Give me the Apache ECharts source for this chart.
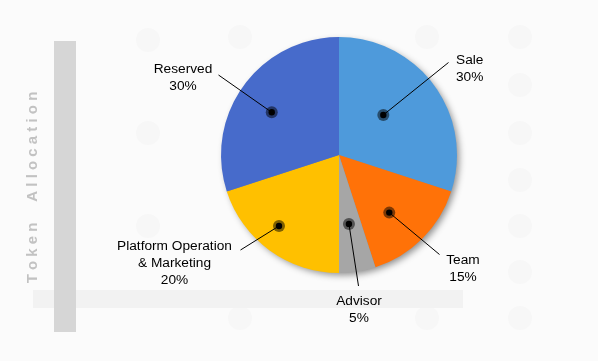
<!DOCTYPE html>
<html>
<head>
<meta charset="utf-8">
<script src="https://cdn.jsdelivr.net/npm/echarts@6/dist/echarts.min.js"></script>
<style>html,body{margin:0;padding:0;background:#fbfbfb;}#c{width:598px;height:361px;}</style>
</head>
<body>
<div id="c"></div>
<script>
const categories = ['Sale', 'Team', 'Advisor', 'Platform Operation & Marketing', 'Reserved'];
const values = [30, 15, 5, 20, 30];
const colors = ['#4E9ADB', '#FF7208', '#A6A6A6', '#FFC000', '#476BCB'];
const title = 'Token Allocation';

// layout (pixels)
const CX = 339, CY = 155, R = 118;
// per slice: [angle offset (deg), radius fraction] of the dot
const dotLayout = [[-6.1, 0.506], [3.9, 0.648], [0.8, 0.59], [4.2, 0.788], [-3.6, 0.675]];
// per slice: label anchor, align, end of leader line
const labelLayouts = [
  {x: 456, y: 69, align: 'left', end: [448.5, 62.5]},
  {x: 463, y: 268.5, align: 'center', end: [439.5, 254.5]},
  {x: 359, y: 310, align: 'center', end: [358.5, 286]},
  {x: 174.5, y: 263.5, align: 'center', end: [240.5, 250]},
  {x: 183, y: 77.5, align: 'center', end: [218.5, 75]}
];

const total = values.reduce((a, b) => a + b, 0);
const dots = [];
let acc = 0;
values.forEach((v, i) => {
  const mid = (acc + v / 2) / total * 360 + dotLayout[i][0];
  acc += v;
  const a = mid * Math.PI / 180;
  const r = R * dotLayout[i][1];
  dots.push([CX + r * Math.sin(a), CY - r * Math.cos(a)]);
});

const chart = echarts.init(document.getElementById('c'), null, {renderer: 'canvas'});

const bgCircles = [[520,37],[520,85],[520,133],[520,180],[520,226],[520,272],[520,318],[427,37],[148,40],[240,37],[148,133],[148,226],[240,318],[427,318]];
const graphics = [];
bgCircles.forEach(p => graphics.push({type: 'circle', silent: true, z: -10, shape: {cx: p[0], cy: p[1], r: 12}, style: {fill: '#f7f7f7'}}));
graphics.push({type: 'rect', z: -5, shape: {x: 33, y: 290, width: 430, height: 18}, style: {fill: '#f2f2f2'}});
graphics.push({type: 'rect', z: -4, shape: {x: 54, y: 41, width: 22, height: 291}, style: {fill: '#d6d6d6'}});
graphics.push({type: 'text', z: -3, x: 33, y: 187.5, rotation: Math.PI / 2,
  style: {text: title.split('').join(' ').replace('n   A', 'n     A'), fill: '#c2c2c2', font: 'bold 15px "Liberation Sans", Arial, sans-serif', align: 'center', verticalAlign: 'middle'}});
dots.forEach((p, i) => {
  const e = labelLayouts[i].end;
  graphics.push({type: 'line', z: 99, shape: {x1: p[0], y1: p[1], x2: e[0], y2: e[1]}, style: {stroke: '#000', lineWidth: 1}});
  graphics.push({type: 'circle', z: 100, shape: {cx: p[0], cy: p[1], r: 6}, style: {fill: 'rgba(0,0,0,0.5)'}});
  graphics.push({type: 'circle', z: 101, shape: {cx: p[0], cy: p[1], r: 3.2}, style: {fill: '#000'}});
});

chart.setOption({
  backgroundColor: '#fbfbfb',
  animation: false,
  graphic: graphics,
  series: [{
    type: 'pie',
    silent: true,
    z: 1,
    center: [CX, CY],
    radius: [0, R - 1],
    label: {show: false},
    labelLine: {show: false},
    data: [{value: 1, itemStyle: {color: '#888', shadowBlur: 7, shadowOffsetX: 3, shadowOffsetY: 3, shadowColor: 'rgba(0,0,0,0.45)'}}]
  }, {
    type: 'pie',
    z: 2,
    center: [CX, CY],
    radius: [0, R],
    startAngle: 90,
    clockwise: true,
    avoidLabelOverlap: false,
    data: categories.map((c, i) => ({name: c, value: values[i], itemStyle: {color: colors[i]}})),
    label: {
      show: true,
      position: 'outside',
      formatter: p => p.name.replace(' & ', '\n& ') + '\n' + p.value + '%',
      color: '#000',
      fontSize: 13.7,
      fontFamily: '"Liberation Sans", Arial, sans-serif',
      lineHeight: 17
    },
    labelLine: {show: false},
    emphasis: {disabled: true},
    labelLayout: function (params) {
      const L = labelLayouts[params.dataIndex];
      return {x: L.x, y: L.y, align: L.align, verticalAlign: 'middle'};
    }
  }]
});
</script>
</body>
</html>
